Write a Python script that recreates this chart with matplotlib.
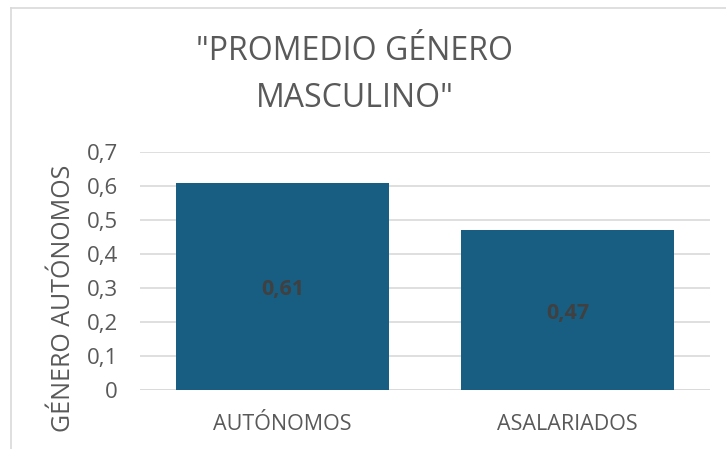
import matplotlib
matplotlib.use("Agg")
import matplotlib.pyplot as plt
from matplotlib.lines import Line2D

categories = ["AUTÓNOMOS", "ASALARIADOS"]
values = [0.61, 0.47]
yticks = [0, 0.1, 0.2, 0.3, 0.4, 0.5, 0.6, 0.7]
title = '"PROMEDIO GÉNERO\nMASCULINO"'
ylabel = "GÉNERO AUTÓNOMOS"

def fmt(v):
    s = ("%.1f" % v).replace(".", ",")
    return "0" if v == 0 else s

plt.rcParams['font.family'] = ['Open Sans', 'DejaVu Sans']

fig = plt.figure(figsize=(7.26, 4.49), dpi=100)
ax = fig.add_axes([140/726, 1 - 390/449, 570/726, (390-152)/449])

x = list(range(len(categories)))
bars = ax.bar(x, values, width=0.75, color="#175e82", zorder=3)
ax.set_xlim(-0.5, len(categories) - 0.5)
ax.set_ylim(0, 0.7)
ax.set_yticks(yticks)
ax.set_yticklabels([fmt(v) for v in yticks], fontsize=16, color="#595959")
ax.set_xticks(x)
ax.set_xticklabels(categories, fontsize=15.5, color="#595959")
ax.tick_params(axis='x', length=0, pad=17)
ax.tick_params(axis='y', length=0, pad=16)
ax.grid(axis='y', color="#d9d9d9", linewidth=1.2, zorder=0)
for s in ax.spines.values():
    s.set_visible(False)
ax.axhline(0, color="#d9d9d9", linewidth=1.2, zorder=2)

for xi, v in zip(x, values):
    ax.annotate(("%.2f" % v).replace(".", ","), (xi, v / 2), xytext=(0, -3),
                textcoords='offset pixels', ha='center', va='center',
                fontsize=15.5, fontweight='bold', color="#404040", zorder=4)

ax.set_ylabel(ylabel, fontsize=18, color="#595959", va='center')
ax.yaxis.set_label_coords(-0.134, 0.387)
fig.text(355/726, 1 - 75/449, title, ha='center', va='center', fontsize=23,
         color="#595959", linespacing=1.55)

# outer chart border (left and top)
fig.add_artist(Line2D([11/726, 11/726], [0, 1 - 8/449], transform=fig.transFigure,
                      color="#d9d9d9", linewidth=1.2))
fig.add_artist(Line2D([11/726, 1], [1 - 8/449, 1 - 8/449], transform=fig.transFigure,
                      color="#d9d9d9", linewidth=1.2))

fig.savefig("out.png", dpi=100, facecolor="white")
